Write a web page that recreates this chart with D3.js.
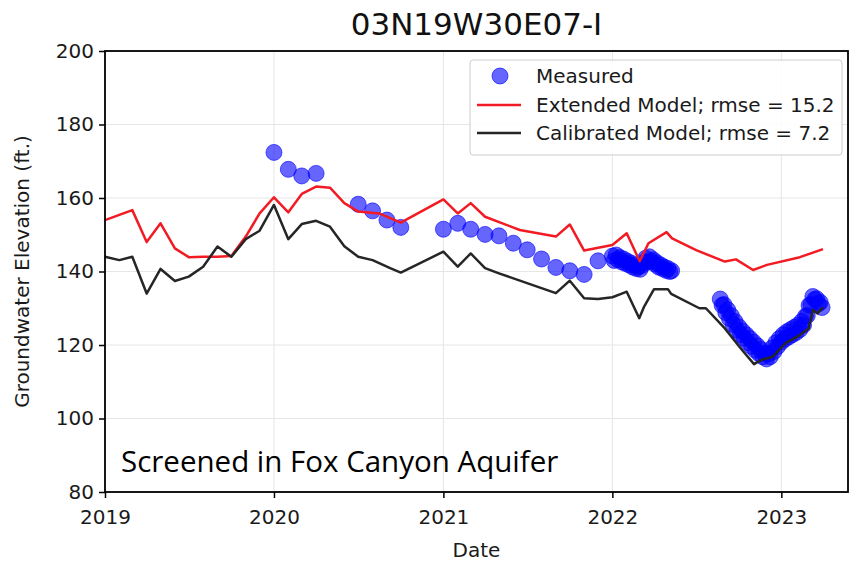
<!DOCTYPE html>
<html><head><meta charset="utf-8">
<script src="https://cdn.jsdelivr.net/npm/d3@7"></script>
<style>body{margin:0;background:#fff}svg{display:block}</style>
</head><body>
<svg id="c" width="851" height="562"></svg>
<script>
const title = "03N19W30E07-I";
const yTicks = [80, 100, 120, 140, 160, 180, 200];
const xTickYears = ["2019", "2020", "2021", "2022", "2023"];

const measuredDates = ["2020-01-01","2020-02-01","2020-03-01","2020-04-01","2020-07-01","2020-08-01","2020-09-01","2020-10-01",
 "2021-01-01","2021-02-01","2021-03-01","2021-04-01","2021-05-01","2021-06-01","2021-07-01","2021-08-01","2021-09-01","2021-10-01","2021-11-01","2021-12-01",
 "2022-01-01","2022-01-05","2022-01-09","2022-01-13","2022-01-17","2022-01-21","2022-01-25","2022-01-29",
 "2022-02-02","2022-02-06","2022-02-10","2022-02-14","2022-02-18","2022-02-22","2022-02-26",
 "2022-03-02","2022-03-06","2022-03-10","2022-03-14","2022-03-18","2022-03-22","2022-03-26","2022-03-30",
 "2022-04-03","2022-04-07","2022-04-11","2022-04-15","2022-04-19","2022-04-23","2022-04-27",
 "2022-05-01","2022-05-05","2022-05-09",
 "2022-08-22","2022-08-26","2022-08-30",
 "2022-09-03","2022-09-07","2022-09-11","2022-09-15","2022-09-19","2022-09-23","2022-09-27",
 "2022-10-01","2022-10-05","2022-10-09","2022-10-13","2022-10-17","2022-10-21","2022-10-25","2022-10-29",
 "2022-11-02","2022-11-06","2022-11-10","2022-11-14","2022-11-18","2022-11-22","2022-11-26","2022-11-30",
 "2022-12-04","2022-12-08","2022-12-12","2022-12-16","2022-12-20","2022-12-24","2022-12-28",
 "2023-01-01","2023-01-05","2023-01-09","2023-01-13","2023-01-17","2023-01-21","2023-01-25","2023-01-29",
 "2023-02-02","2023-02-06","2023-02-10","2023-02-14","2023-02-18","2023-02-22","2023-02-26",
 "2023-03-02","2023-03-06","2023-03-10","2023-03-14","2023-03-18","2023-03-22","2023-03-26","2023-03-30"];
const measuredValues = [172.4,167.8,166.0,166.7,158.3,156.5,154.0,152.0,
 151.5,153.1,151.5,150.1,149.7,147.7,145.9,143.4,141.1,140.2,139.2,142.9,
 144.2,143.0,144.5,143.2,143.8,142.6,143.4,142.2,
 142.8,141.8,142.3,141.2,141.8,140.8,141.3,
 140.6,141.6,142.5,143.6,142.6,144.0,142.8,143.2,
 142.0,142.4,141.2,141.8,140.8,141.2,140.3,
 140.8,140.0,140.2,
 132.5,130.8,131.0,
 128.8,129.6,127.2,128.0,125.6,126.4,124.0,
 125.0,122.8,123.8,121.8,122.8,120.6,121.8,119.6,
 120.8,118.6,119.8,117.6,118.8,116.8,117.8,116.2,
 117.6,116.8,119.2,118.2,120.6,119.6,121.8,
 120.8,122.8,121.6,123.6,122.2,124.2,122.8,124.8,
 123.4,125.4,124.2,126.4,125.4,127.8,128.0,
 130.8,131.0,133.2,132.4,132.6,131.2,131.6,130.2];

const extendedDates = ["2019-01-01","2019-03-01","2019-04-01","2019-05-01","2019-06-01","2019-07-01","2019-08-01","2019-09-01","2019-10-01","2019-11-01","2019-12-01",
 "2020-01-01","2020-02-01","2020-03-01","2020-04-01","2020-05-01","2020-06-01","2020-07-01","2020-08-15","2020-10-01",
 "2021-01-01","2021-02-01","2021-03-01","2021-04-01","2021-06-15","2021-09-01","2021-10-01","2021-11-01",
 "2022-01-01","2022-02-01","2022-03-01","2022-03-20","2022-04-28","2022-05-10","2022-07-01","2022-09-01","2022-09-25","2022-11-01","2022-12-01","2023-02-10","2023-04-01"];
const extendedValues = [154.0,156.7,148.0,153.1,146.3,143.9,144.0,144.0,144.2,149.5,155.8,
 160.2,156.1,161.1,163.1,162.8,158.6,156.3,155.8,153.3,
 159.6,155.8,158.6,154.9,151.3,149.5,152.8,145.7,
 147.2,150.4,142.8,147.7,150.7,149.0,145.8,142.7,143.3,140.4,141.8,143.9,146.1];

const calibratedDates = ["2019-01-01","2019-02-01","2019-03-01","2019-04-01","2019-05-01","2019-06-01","2019-07-01","2019-08-01","2019-09-01","2019-10-01","2019-11-01","2019-12-01",
 "2020-01-01","2020-02-01","2020-03-01","2020-04-01","2020-05-01","2020-06-01","2020-07-01","2020-08-01","2020-09-08","2020-10-01",
 "2021-01-01","2021-02-01","2021-03-01","2021-04-01","2021-05-01","2021-09-01","2021-10-01","2021-11-01","2021-12-01",
 "2022-01-01","2022-01-20","2022-02-01","2022-02-28","2022-03-10","2022-04-01","2022-05-01","2022-05-08","2022-07-08","2022-07-22","2022-09-01","2022-10-05","2022-11-03","2022-11-20","2022-12-13",
 "2023-01-10","2023-02-10","2023-03-01","2023-03-10","2023-03-20","2023-04-01"];
const calibratedValues = [144.0,143.1,144.0,134.0,140.7,137.4,138.6,141.3,146.8,144.0,148.8,151.1,
 158.1,148.8,152.9,153.8,152.2,146.9,144.0,143.1,140.9,139.7,
 145.4,141.3,144.9,140.9,139.5,134.1,137.5,132.7,132.5,
 133.0,133.9,134.5,127.3,130.3,135.2,135.2,133.9,130.0,130.0,124.5,119.1,114.8,116.0,116.8,
 120.5,122.7,124.5,129.5,128.6,130.3];

const legendLabels = ["Measured", "Extended Model; rmse = 15.2", "Calibrated Model; rmse = 7.2"];
const annotation = "Screened in Fox Canyon Aquifer";

const parse = d3.timeParse("%Y-%m-%d");
const svg = d3.select("#c");
const L = 105, R = 848, T = 51, B = 492;
const x = d3.scaleTime().domain([parse("2019-01-01"), parse("2023-05-25")]).range([L, R]);
const y = d3.scaleLinear().domain([80, 200]).range([B, T]);
const font = "'DejaVu Sans', sans-serif";
const tickDates = xTickYears.map(s => parse(s + "-01-01"));

// grid
const g = svg.append("g");
g.selectAll(".gx").data(tickDates).join("line")
  .attr("x1", d => x(d)).attr("x2", d => x(d)).attr("y1", T).attr("y2", B)
  .attr("stroke", "#e6e6e6").attr("stroke-width", 1);
g.selectAll(".gy").data(yTicks).join("line")
  .attr("x1", L).attr("x2", R).attr("y1", d => y(d)).attr("y2", d => y(d))
  .attr("stroke", "#e6e6e6").attr("stroke-width", 1);

// measured
svg.append("g").selectAll("circle").data(measuredDates.map((d, i) => [parse(d), measuredValues[i]]))
  .join("circle").attr("cx", d => x(d[0])).attr("cy", d => y(d[1])).attr("r", 8)
  .attr("fill", "#0000ff").attr("fill-opacity", 0.6)
  .attr("stroke", "#0000ff").attr("stroke-opacity", 0.6).attr("stroke-width", 1);

const line = d3.line().x(d => x(d[0])).y(d => y(d[1]));
svg.append("path").datum(extendedDates.map((d, i) => [parse(d), extendedValues[i]]))
  .attr("d", line).attr("fill", "none").attr("stroke", "#f21b24").attr("stroke-width", 2.5).attr("stroke-linejoin", "round");
svg.append("path").datum(calibratedDates.map((d, i) => [parse(d), calibratedValues[i]]))
  .attr("d", line).attr("fill", "none").attr("stroke", "#262626").attr("stroke-width", 2.5).attr("stroke-linejoin", "round");

// axes
const xa = svg.append("g").attr("transform", `translate(0,${B})`)
  .call(d3.axisBottom(x).tickValues(tickDates).tickFormat(d3.timeFormat("%Y")).tickSize(6).tickPadding(12));
const ya = svg.append("g").attr("transform", `translate(${L},0)`)
  .call(d3.axisLeft(y).tickValues(yTicks).tickSize(6).tickPadding(5));
[xa, ya].forEach(a => {
  a.select(".domain").remove();
  a.selectAll("line").attr("stroke", "#000").attr("stroke-width", 1.5);
  a.selectAll("text").attr("font-family", font).attr("font-size", 20).attr("fill", "#1a1a1a");
});
svg.append("rect").attr("x", L).attr("y", T).attr("width", R - L).attr("height", B - T)
  .attr("fill", "none").attr("stroke", "#000").attr("stroke-width", 1.8);

// labels
svg.append("text").attr("x", (L + R) / 2).attr("y", 35).attr("text-anchor", "middle")
  .attr("font-family", font).attr("font-size", 31).attr("fill", "#111").text(title);
svg.append("text").attr("x", (L + R) / 2).attr("y", 557).attr("text-anchor", "middle")
  .attr("font-family", font).attr("font-size", 20).attr("fill", "#1a1a1a").text("Date");
svg.append("text").attr("transform", `translate(29,${(T + B) / 2}) rotate(-90)`).attr("text-anchor", "middle")
  .attr("font-family", font).attr("font-size", 20).attr("fill", "#1a1a1a").text("Groundwater Elevation (ft.)");
svg.append("text").attr("x", 121).attr("y", 472)
  .attr("font-family", "'Open Sans', sans-serif").attr("font-size", 29.5).attr("fill", "#000").text(annotation);

// legend
const lg = svg.append("g");
lg.append("rect").attr("x", 470).attr("y", 60).attr("width", 372).attr("height", 95).attr("rx", 3)
  .attr("fill", "#fff").attr("fill-opacity", 0.85).attr("stroke", "#cccccc").attr("stroke-width", 1);
const rows = [76, 105, 133];
lg.append("circle").attr("cx", 500).attr("cy", rows[0]).attr("r", 8)
  .attr("fill", "#0000ff").attr("fill-opacity", 0.6).attr("stroke", "#0000ff").attr("stroke-opacity", 0.6);
lg.append("line").attr("x1", 477).attr("x2", 521).attr("y1", rows[1]).attr("y2", rows[1]).attr("stroke", "#f21b24").attr("stroke-width", 2.5);
lg.append("line").attr("x1", 477).attr("x2", 521).attr("y1", rows[2]).attr("y2", rows[2]).attr("stroke", "#262626").attr("stroke-width", 2.5);
lg.selectAll("text.l").data(legendLabels).join("text")
  .attr("x", 536).attr("y", (d, i) => rows[i] + 7)
  .attr("font-family", font).attr("font-size", 20).attr("fill", "#1a1a1a").text(d => d);
</script>
</body></html>
